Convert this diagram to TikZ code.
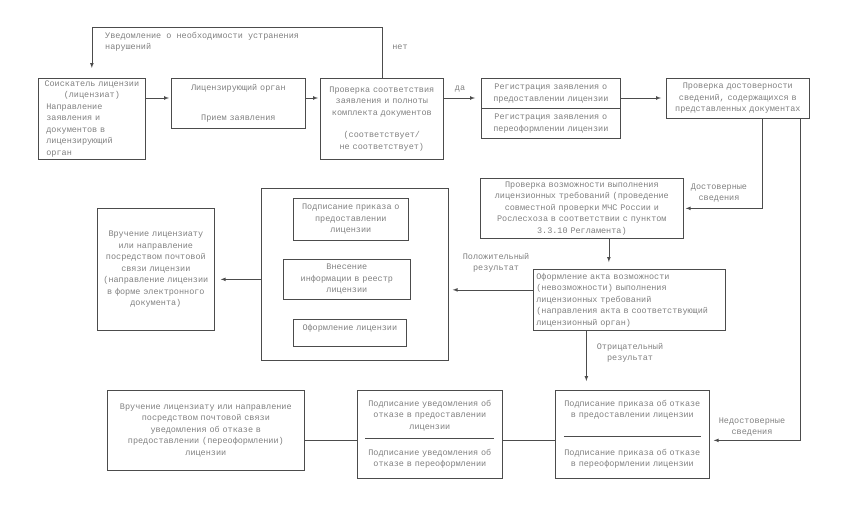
\documentclass[tikz,border=0pt]{standalone}
\usepackage{fontspec}
\newfontfamily\monofont{Liberation Mono}
\usetikzlibrary{arrows}
\definecolor{tekst}{gray}{0.5}
\definecolor{linii}{gray}{0.3}

\begin{document}
\begin{tikzpicture}[x=1pt,y=-1pt,
    font=\monofont\fontsize{8.5}{11.5}\selectfont, text=tekst,
    blok/.style={draw=linii, line width=0.7pt, anchor=north west,
      inner xsep=3pt, inner ysep=1pt, align=center},
    metka/.style={align=center, inner sep=0pt},
    strelka/.style={draw=linii, line width=0.7pt, -latex},
    liniya/.style={draw=linii, line width=0.7pt}]

    \useasboundingbox (0,0) rectangle (846,516);
    \coordinate (ryad) at (0,98);

    % verhnii ryad
    \node[blok, text width=101pt, minimum height=81pt, align=left] (soisk) at (38,78)
      {\hfil Соискатель лицензии\\ \hfil(лицензиат)\\ \hspace*{5pt}Направление\\
       \hspace*{5pt}заявления и\\ \hspace*{5pt}документов в\\ \hspace*{5pt}лицензирующий\\
       \hspace*{5pt}орган};
    \node[blok, text width=128pt, minimum height=50pt] (organ) at (171,78)
      {Лицензирующий орган\\[18pt]Прием заявления};
    \node[blok, text width=117pt, minimum height=81pt] (proverka) at (320,78)
      {Проверка соответствия\\ заявления и полноты\\ комплекта документов\\[11pt]
       (соответствует/\\ не соответствует)};
    \node[blok, text width=133pt, minimum height=30pt] (regpred) at (481,78)
      {Регистрация заявления о\\ предоставлении лицензии};
    \node[blok, text width=133pt, minimum height=30pt] (regpere) at (481,108)
      {Регистрация заявления о\\ переоформлении лицензии};
    \node[blok, text width=137pt, minimum height=40pt] (dostov) at (666,78)
      {Проверка достоверности\\ сведений, содержащихся в\\ представленных документах};

    % srednii ryad
    \node[blok, text width=197pt, minimum height=60pt] (vozmozh) at (480,178)
      {Проверка возможности выполнения\\ лицензионных требований (проведение\\
       совместной проверки МЧС России и\\ Рослесхоза в соответствии с пунктом\\
       3.3.10 Регламента)};
    \node[blok, text width=186pt, minimum height=61pt, align=left] (akt) at (533,269)
      {Оформление акта возможности\\ (невозможности) выполнения\\
       лицензионных требований\\ (направления акта в соответствующий\\
       лицензионный орган)};
    \node[blok, minimum width=187pt, minimum height=172pt] (grupa) at (261,188) {};
    \node[blok, text width=109pt, minimum height=42pt] (prikaz) at (293,198)
      {Подписание приказа о\\ предоставлении\\ лицензии};
    \node[blok, text width=121pt, minimum height=40pt] (reestr) at (283,259)
      {Внесение\\ информации в реестр\\ лицензии};
    \node[blok, text width=107pt, minimum height=27pt, text depth=10pt] (oform) at (293,319)
      {Оформление лицензии};
    \node[blok, text width=111pt, minimum height=122pt] (vruch) at (97,208)
      {Вручение лицензиату\\ или направление\\ посредством почтовой\\ связи лицензии\\
       (направление лицензии\\ в форме электронного\\ документа)};

    % nizhnii ryad
    \node[blok, text width=191pt, minimum height=80pt] (vruchotk) at (107,390)
      {Вручение лицензиату или направление\\ посредством почтовой связи\\
       уведомления об отказе в\\ предоставлении (переоформлении)\\ лицензии};
    \node[blok, text width=139pt, minimum height=88pt] (uvedotk) at (357,390)
      {Подписание уведомления об\\ отказе в предоставлении\\ лицензии\\[-1pt]
       \textcolor{linii}{\rule[1.5pt]{129pt}{0.6pt}}\\[4pt]
       Подписание уведомления об\\ отказе в переоформлении};
    \node[blok, text width=148pt, minimum height=88pt] (prikotk) at (555,390)
      {Подписание приказа об отказе\\ в предоставлении лицензии\\[9pt]
       \textcolor{linii}{\rule[1.5pt]{137pt}{0.6pt}}\\[5.5pt]
       Подписание приказа об отказе\\ в переоформлении лицензии};

    % podpisi
    \node[metka, anchor=north west, align=left] (uvedoml) at (105,32)
      {Уведомление о необходимости устранения\\ нарушений};
    \node[metka] (net) at (400,47) {нет};
    \node[metka] (da) at (460,89) {да};
    \node[metka] (dost) at (719,193) {Достоверные\\ сведения};
    \node[metka] (nedost) at (752,427) {Недостоверные\\ сведения};
    \node[metka] (polozh) at (496,263) {Положительный\\ результат};
    \node[metka] (otric) at (630,353) {Отрицательный\\ результат};

    % strelki
    \draw[strelka, shorten >=2pt] (soisk.east |- ryad) -- (organ.west |- ryad);
    \draw[strelka, shorten >=2pt] (organ.east |- ryad) -- (proverka.west |- ryad);
    \draw[strelka, shorten >=6pt] (proverka.east |- ryad) -- (regpred.west |- ryad);
    \draw[strelka, shorten >=5pt] (regpred.east |- ryad) -- (dostov.west |- ryad);
    \draw[strelka, shorten >=10pt] (proverka.north) -- ++(0,-51) -| (soisk.north);
    \draw[strelka, shorten >=2pt] ([xshift=24pt]dostov.south) |- (vozmozh.east);
    \draw[strelka, shorten >=4pt] ([xshift=62pt]dostov.south) |- ([yshift=-6pt]prikotk.east);
    \draw[strelka, shorten >=7pt] ([xshift=27pt]vozmozh.south) -- ([xshift=27pt]vozmozh.south |- akt.north);
    \draw[strelka, shorten >=4pt] ([yshift=10pt]akt.west) -- ([yshift=10pt]akt.west -| grupa.east);
    \draw[strelka, shorten >=6pt] ([yshift=-5pt]grupa.west) -- ([yshift=-5pt]grupa.west -| vruch.east);
    \draw[strelka, shorten >=9pt] ([xshift=-43pt]akt.south) -- ([xshift=-43pt]akt.south |- prikotk.north);
    \draw[liniya] ([yshift=-6pt]uvedotk.east) -- ([yshift=-6pt]uvedotk.east -| prikotk.west);
    \draw[liniya] ([yshift=-6pt]uvedotk.west) -- ([yshift=-6pt]uvedotk.west -| vruchotk.east);
\end{tikzpicture}
\end{document}
